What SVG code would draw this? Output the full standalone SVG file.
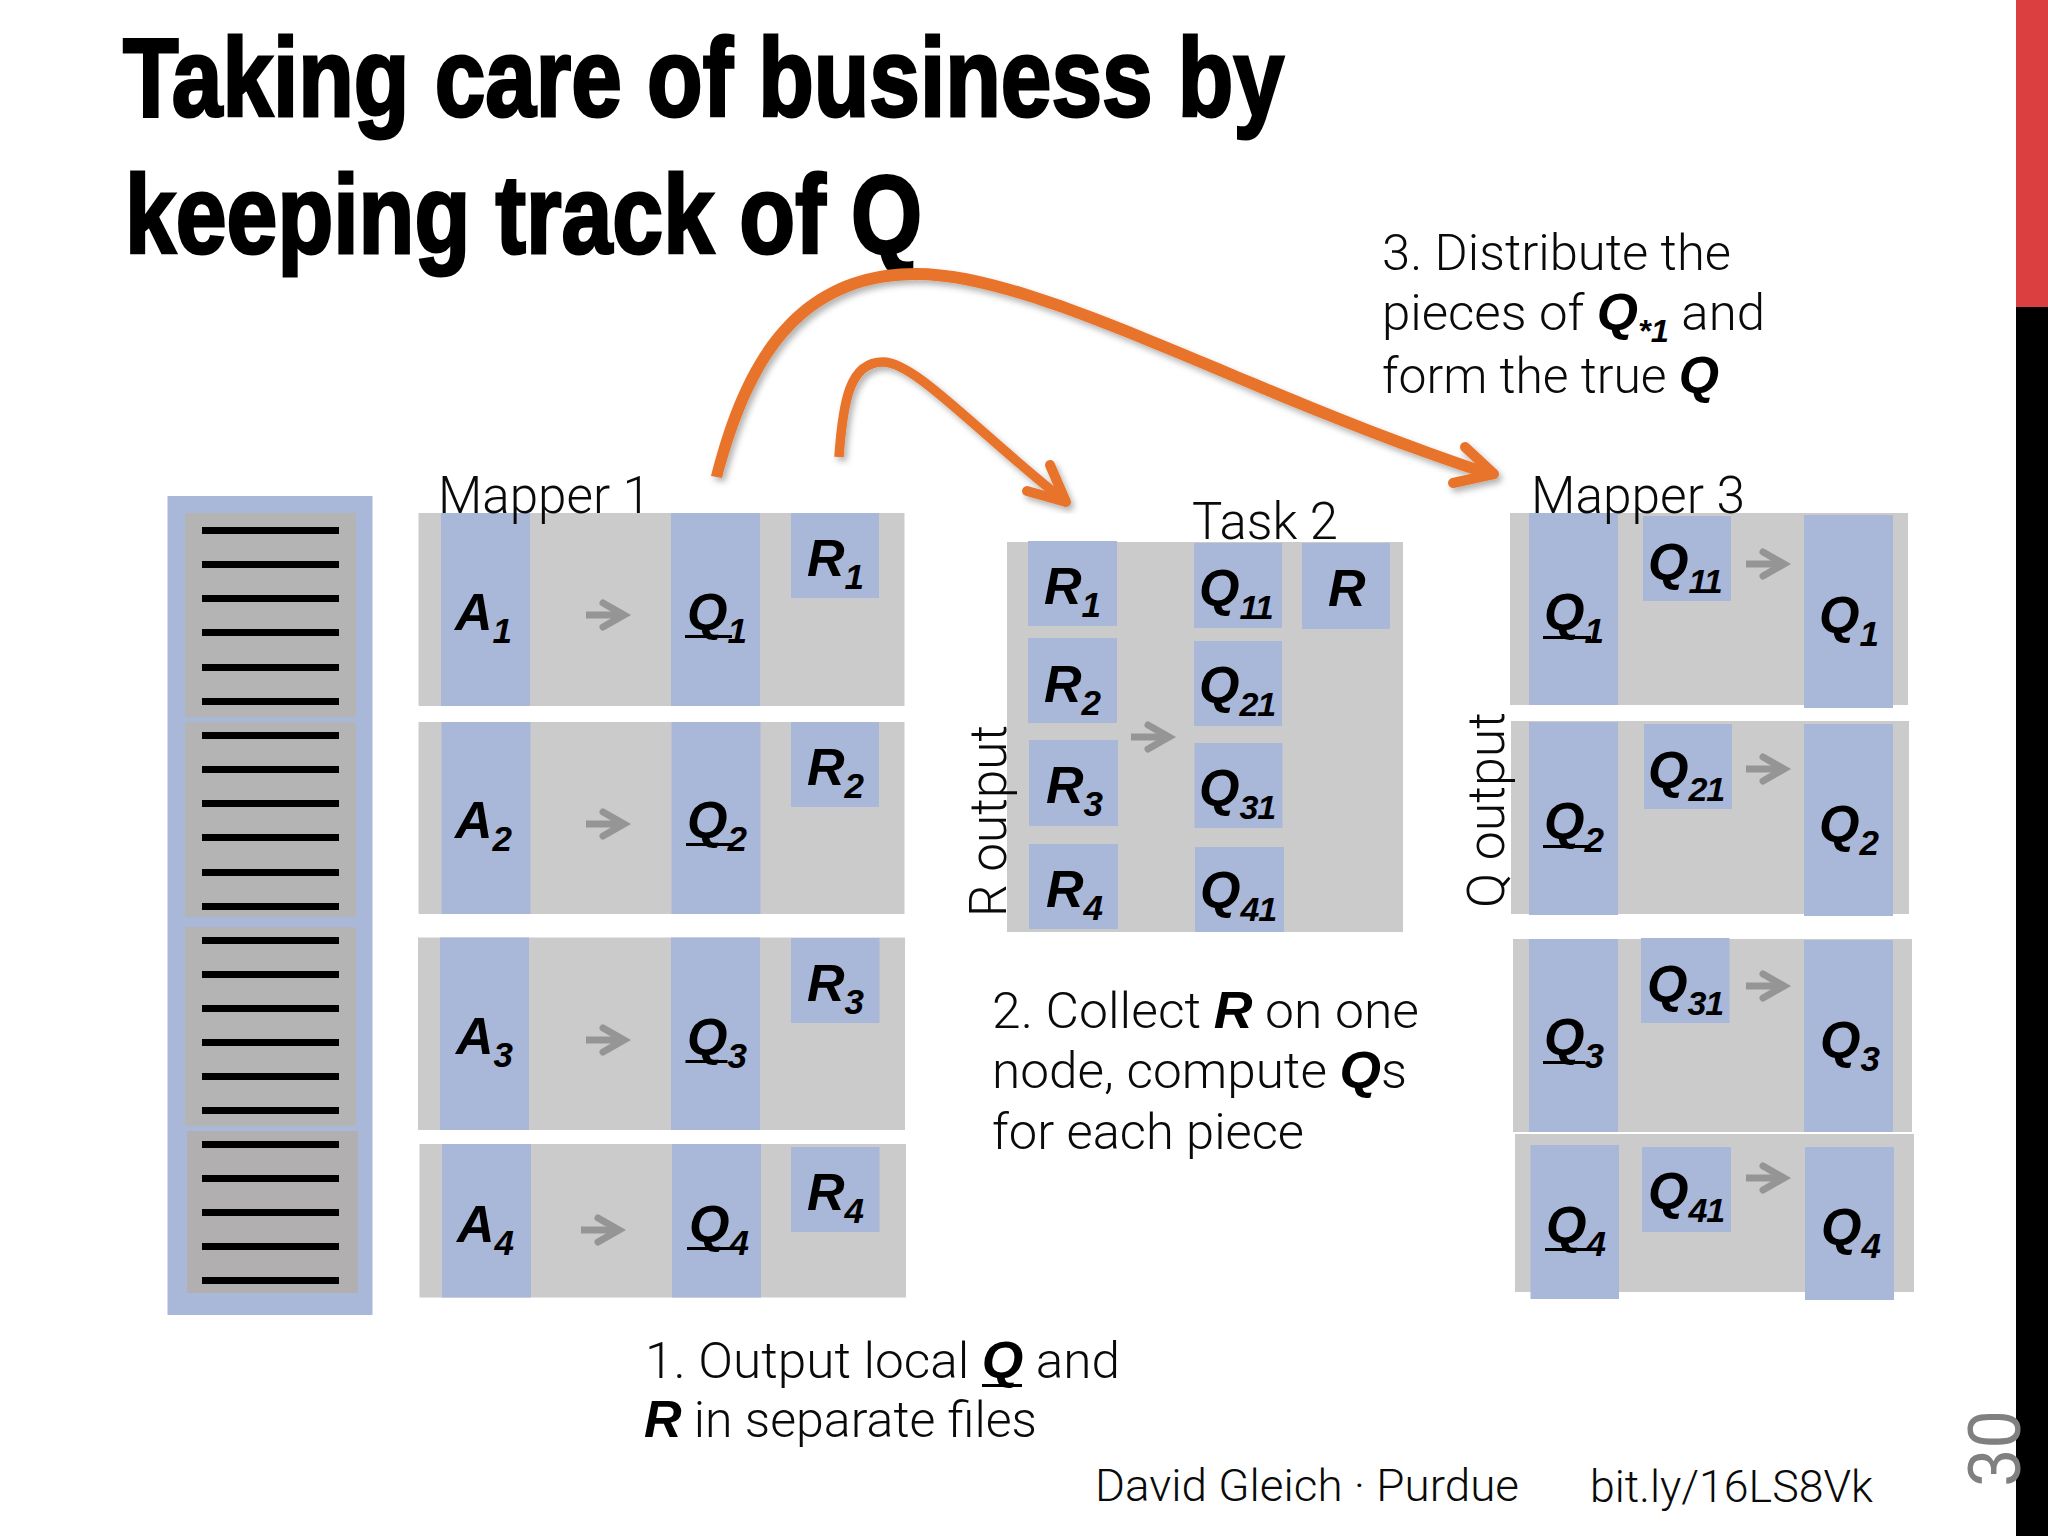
<svg xmlns="http://www.w3.org/2000/svg" xmlns:xlink="http://www.w3.org/1999/xlink" width="2048" height="1536" viewBox="0 0 2048 1536">
<style>
.g{fill:#cbcbcb}.b{fill:#a9b7d9}.ig{fill:#b4b4b4}.ln{fill:#000}
text{font-family:"Roboto","Liberation Sans",sans-serif;font-weight:300;fill:#0a0a0a}
.t{font-family:"Liberation Sans Narrow","Liberation Sans",sans-serif;font-weight:700;font-size:111px;fill:#000;stroke:#000;stroke-width:3}
.h{font-size:52px}
.k{font-size:50px}
.f{font-size:44px}
.m{font-family:"Liberation Sans",sans-serif;font-weight:700;font-style:italic;font-size:52px;fill:#000}
.m tspan{font-size:35px}
.m .w{font-size:34px;letter-spacing:-1px}
.e{font-family:"Liberation Sans",sans-serif;font-weight:700;font-style:italic;font-size:52px;fill:#000}
.u{fill:#000}
.ga{fill:none;stroke:#959595;stroke-width:7}
.o{fill:none;stroke:#e8732c;stroke-linecap:round;stroke-linejoin:round}
</style>
<defs>
<g id="ar"><path class="ga" d="M0,0H36"/><path class="ga" stroke-linecap="round" d="M17,-12L38,0L17,12"/></g>
<filter id="sh" x="-5%" y="-5%" width="110%" height="110%"><feDropShadow dx="3" dy="4" stdDeviation="3" flood-color="#000" flood-opacity="0.3"/></filter>
</defs>
<rect width="2048" height="1536" fill="#fff"/>
<g id="side-bar"><rect x="2016" y="0" width="32" height="307" fill="#dc3f3f"/><rect x="2016" y="307" width="32" height="1229" fill="#000"/></g>
<g id="title"><text class="t" x="123" y="115.500" textLength="1161" lengthAdjust="spacingAndGlyphs">Taking care of business by</text><text class="t" x="125" y="252.500" textLength="797" lengthAdjust="spacingAndGlyphs">keeping track of Q</text></g>

<g id="matrix-A">
<rect class="b" x="167.500" y="496" width="205" height="819"/>
<rect class="ig" x="185" y="513" width="171" height="204"/><rect class="ig" x="185" y="722" width="171" height="195"/><rect class="ig" x="185" y="927" width="171" height="199"/><rect x="187" y="1131" width="171" height="162" fill="#b1afaf"/>
<g class="ln">
<rect x="202" y="527" width="137" height="7"/><rect x="202" y="561" width="137" height="7"/><rect x="202" y="595" width="137" height="7"/><rect x="202" y="629" width="137" height="7"/><rect x="202" y="664" width="137" height="7"/><rect x="202" y="698" width="137" height="7"/><rect x="202" y="732" width="137" height="7"/><rect x="202" y="766" width="137" height="7"/><rect x="202" y="800" width="137" height="7"/><rect x="202" y="834" width="137" height="7"/><rect x="202" y="869" width="137" height="7"/><rect x="202" y="903" width="137" height="7"/><rect x="202" y="937" width="137" height="7"/><rect x="202" y="971" width="137" height="7"/><rect x="202" y="1005" width="137" height="7"/><rect x="202" y="1039" width="137" height="7"/><rect x="202" y="1073" width="137" height="7"/><rect x="202" y="1107" width="137" height="7"/><rect x="202" y="1141" width="137" height="7"/><rect x="202" y="1175" width="137" height="7"/><rect x="202" y="1209" width="137" height="7"/><rect x="202" y="1243" width="137" height="7"/><rect x="202" y="1277" width="137" height="7"/>
</g></g>

<g id="mapper-1">
<g id="m1-row1"><rect class="g" x="418.500" y="513" width="486" height="193"/><rect class="b" x="441" y="513" width="89" height="193"/><rect class="b" x="671" y="513" width="89" height="193"/><rect class="b" x="791" y="513" width="88" height="85"/>
<text class="m" x="455" y="630">A<tspan dy="13">1</tspan></text><text class="m" x="687" y="630">Q<tspan dy="13">1</tspan></text><rect class="u" x="685" y="635" width="47" height="3"/><text class="m" x="807" y="576">R<tspan dy="13">1</tspan></text></g>
<g id="m1-row2"><rect class="g" x="418.500" y="722" width="486" height="192"/><rect class="b" x="441.500" y="722" width="89" height="192"/><rect class="b" x="671.500" y="722" width="89" height="192"/><rect class="b" x="791" y="722" width="88" height="85"/>
<text class="m" x="455" y="838">A<tspan dy="13">2</tspan></text><text class="m" x="687" y="838">Q<tspan dy="13">2</tspan></text><rect class="u" x="686" y="843" width="47" height="3"/><text class="m" x="807" y="785">R<tspan dy="13">2</tspan></text></g>
<g id="m1-row3"><rect class="g" x="418" y="937.500" width="487" height="192.500"/><rect class="b" x="440" y="937.500" width="89" height="192.500"/><rect class="b" x="671" y="937.500" width="89" height="192.500"/><rect class="b" x="791" y="938" width="88.500" height="85"/>
<text class="m" x="456" y="1054">A<tspan dy="13">3</tspan></text><text class="m" x="687" y="1055">Q<tspan dy="13">3</tspan></text><rect class="u" x="685.500" y="1060" width="42" height="3"/><text class="m" x="807" y="1001">R<tspan dy="13">3</tspan></text></g>
<g id="m1-row4"><rect class="g" x="419.500" y="1144" width="486.500" height="153.500"/><rect class="b" x="442" y="1144" width="89" height="153.500"/><rect class="b" x="672" y="1144" width="89" height="153.500"/><rect class="b" x="791" y="1147" width="88.500" height="85"/>
<text class="m" x="457" y="1242">A<tspan dy="13">4</tspan></text><text class="m" x="689" y="1242">Q<tspan dy="13">4</tspan></text><rect class="u" x="687" y="1247" width="47" height="3"/><text class="m" x="807" y="1210">R<tspan dy="13">4</tspan></text></g>
<text class="h" x="438" y="513" textLength="213" lengthAdjust="spacingAndGlyphs">Mapper 1</text>
</g>

<g id="task-2">
<rect class="g" x="1007" y="542" width="396" height="390"/>
<rect class="b" x="1028" y="541" width="89" height="85"/><rect class="b" x="1028" y="638" width="89" height="85"/><rect class="b" x="1029" y="740" width="89" height="86"/><rect class="b" x="1029" y="844" width="89" height="85"/>
<rect class="b" x="1194" y="543" width="88" height="85"/><rect class="b" x="1194" y="641" width="88" height="85"/><rect class="b" x="1194.500" y="743" width="88" height="85"/><rect class="b" x="1195" y="847" width="89" height="85"/><rect class="b" x="1302" y="543" width="88" height="86"/>
<text class="m" x="1044" y="604">R<tspan dy="13">1</tspan></text><text class="m" x="1044" y="702">R<tspan dy="13">2</tspan></text><text class="m" x="1046" y="803">R<tspan dy="13">3</tspan></text><text class="m" x="1046" y="907">R<tspan dy="13">4</tspan></text>
<text class="m" x="1199" y="606">Q<tspan class="w" dy="13">11</tspan></text><text class="m" x="1199" y="703">Q<tspan class="w" dy="13">21</tspan></text><text class="m" x="1199" y="806">Q<tspan class="w" dy="13">31</tspan></text><text class="m" x="1200" y="908">Q<tspan class="w" dy="13">41</tspan></text>
<text class="m" x="1328" y="606">R</text>
<text class="h" x="1192" y="539" textLength="146" lengthAdjust="spacingAndGlyphs">Task 2</text>
<text class="h" transform="translate(1006,917) rotate(-90)" textLength="192" lengthAdjust="spacingAndGlyphs">R output</text>
</g>

<g id="mapper-3">
<g id="m3-row1"><rect class="g" x="1510" y="513" width="398" height="192"/><rect class="b" x="1529" y="513" width="89" height="192"/><rect class="b" x="1643" y="516" width="88" height="85"/><rect class="b" x="1804" y="515" width="89" height="193"/>
<text class="m" x="1544" y="630">Q<tspan dy="13">1</tspan></text><rect class="u" x="1543" y="636" width="48" height="3"/><text class="m" x="1648" y="580">Q<tspan class="w" dy="13">11</tspan></text><text class="m" x="1819" y="633">Q<tspan dy="13">1</tspan></text></g>
<g id="m3-row2"><rect class="g" x="1511" y="721" width="398" height="193"/><rect class="b" x="1529" y="722" width="89" height="193"/><rect class="b" x="1644" y="724" width="88" height="85"/><rect class="b" x="1804" y="724" width="89" height="192"/>
<text class="m" x="1544" y="839">Q<tspan dy="13">2</tspan></text><rect class="u" x="1543" y="845" width="48" height="3"/><text class="m" x="1648" y="788">Q<tspan class="w" dy="13">21</tspan></text><text class="m" x="1819" y="842">Q<tspan dy="13">2</tspan></text></g>
<g id="m3-row3"><rect class="g" x="1513" y="939" width="399" height="193"/><rect class="b" x="1529" y="939" width="89" height="193"/><rect class="b" x="1641" y="938" width="88.500" height="85"/><rect class="b" x="1804" y="940" width="89" height="192"/>
<text class="m" x="1544" y="1055">Q<tspan dy="13">3</tspan></text><rect class="u" x="1543" y="1061" width="42" height="3"/><text class="m" x="1647" y="1002">Q<tspan class="w" dy="13">31</tspan></text><text class="m" x="1820" y="1058">Q<tspan dy="13">3</tspan></text></g>
<g id="m3-row4"><rect class="g" x="1515" y="1134" width="399" height="158"/><rect class="b" x="1530.500" y="1145" width="88.500" height="154"/><rect class="b" x="1642" y="1147" width="89" height="85"/><rect class="b" x="1805" y="1147" width="89" height="153"/>
<text class="m" x="1546" y="1243">Q<tspan dy="13">4</tspan></text><rect class="u" x="1545" y="1248" width="48" height="3"/><text class="m" x="1648" y="1209">Q<tspan class="w" dy="13">41</tspan></text><text class="m" x="1821" y="1245">Q<tspan dy="13">4</tspan></text></g>
<text class="h" x="1531" y="513" textLength="214" lengthAdjust="spacingAndGlyphs">Mapper 3</text>
<text class="h" transform="translate(1504,908) rotate(-90)" textLength="196" lengthAdjust="spacingAndGlyphs">Q output</text>
</g>

<g id="connectors">
<use href="#ar" x="586" y="615"/><use href="#ar" x="586" y="824"/><use href="#ar" x="586" y="1040"/><use href="#ar" x="581" y="1230"/>
<use href="#ar" x="1131" y="737"/>
<use href="#ar" x="1746" y="564"/><use href="#ar" x="1746" y="769"/><use href="#ar" x="1746" y="986"/><use href="#ar" x="1746" y="1178"/>
<g filter="url(#sh)">
<path d="M711,476C735,383 780,268 916,268C1040,268 1240,385 1492,469L1490,480C1240,399 1040,280 916,280C788,280 747,387 722,478Z" fill="#e8732c"/>
<path class="o" stroke-width="10" d="M1465,447L1494,474L1453,483"/>
<path class="o" stroke-width="9.500" style="stroke-linecap:butt" d="M839,457C843,400 850,362 883,362C915,362 975,430 1066,502"/>
<path class="o" stroke-width="10" d="M1050,465L1066,502L1027,491"/>
</g>
</g>

<g id="note-1"><text class="k" x="645" y="1378" textLength="475" lengthAdjust="spacingAndGlyphs">1. Output local <tspan class="e">Q</tspan> and</text><rect class="u" x="982" y="1384" width="40" height="3"/><text class="k" x="644" y="1437" textLength="393" lengthAdjust="spacingAndGlyphs"><tspan class="e">R</tspan> in separate files</text></g>
<g id="note-2"><text class="k" x="992" y="1028" textLength="427" lengthAdjust="spacingAndGlyphs">2. Collect <tspan class="e">R</tspan> on one</text><text class="k" x="992" y="1088" textLength="415" lengthAdjust="spacingAndGlyphs">node, compute <tspan class="e">Q</tspan>s</text><text class="k" x="992" y="1149" textLength="312" lengthAdjust="spacingAndGlyphs">for each piece</text></g>
<g id="note-3"><text class="k" x="1382" y="270" textLength="349" lengthAdjust="spacingAndGlyphs">3. Distribute the</text><text class="k" x="1382" y="330" textLength="383" lengthAdjust="spacingAndGlyphs">pieces of <tspan class="e">Q</tspan><tspan class="e" style="font-size:32px" dy="12">*1</tspan><tspan dy="-12"> and</tspan></text><text class="k" x="1382" y="393" textLength="337" lengthAdjust="spacingAndGlyphs">form the true <tspan class="e">Q</tspan></text></g>
<g id="footer"><text class="f" x="1095" y="1501" textLength="424" lengthAdjust="spacingAndGlyphs">David Gleich · Purdue</text><text class="f" x="1590" y="1501.500" textLength="283" lengthAdjust="spacingAndGlyphs">bit.ly/16LS8Vk</text></g>
<g id="page-number"><text transform="translate(2020,1487) rotate(-90)" font-size="72" style="fill:#808080;font-weight:400" textLength="77" lengthAdjust="spacingAndGlyphs">30</text></g>
</svg>
